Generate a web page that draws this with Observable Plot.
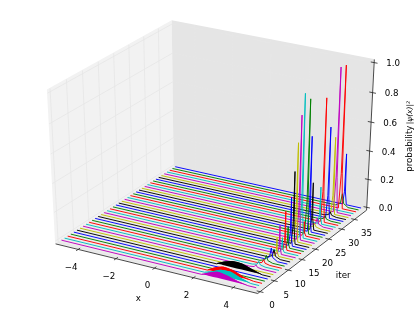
<!DOCTYPE html>
<html>
<head>
<meta charset="utf-8">
<script src="https://cdn.jsdelivr.net/npm/d3@7"></script>
<script src="https://cdn.jsdelivr.net/npm/@observablehq/plot@0.6"></script>
<style>html,body{margin:0;padding:0;background:#fff}svg{display:block}</style>
</head>
<body>
<script>
const xTicks = [-4, -2, 0, 2, 4];
const iterTicks = [0, 5, 10, 15, 20, 25, 30, 35];
const probTicks = [0, 0.2, 0.4, 0.6, 0.8, 1];
const lineColors = ["#0000ff", "#008000", "#ff0000", "#00bfbf", "#bf00bf", "#bfbf00", "#000000"];
const iterMax = 39;

const spikeIter = [39, 38, 37, 35, 34, 33, 32, 31, 30, 29, 28, 27, 26, 25, 24, 23, 22, 21, 20, 19, 18, 17, 16, 15, 14, 13, 12, 11, 10, 9, 8, 7];
const spikeX = [4.15, 4.15, 4.2, 4.2, 4.2, 4.2, 4.2, 4.2, 4.2, 4.2, 4.2, 4.2, 4.2, 4.2, 4.2, 4.2, 4.2, 4.2, 4.2, 4.2, 4.2, 4.2, 4.2, 4.2, 4.2, 4.2, 4.2, 4.2, 4.1, 4.1, 4.0, 4.0];
const spikePeak = [0.36, 0.09, 0.99, 1.0, 0.54, 0.03, 0.635, 0.03, 0.855, 0.26, 0.055, 0.03, 0.33, 0.66, 0.92, 0.1, 0.98, 0.85, 0.68, 0.5, 0.34, 0.15, 0.27, 0.1, 0.2, 0.125, 0.06, 0.085, 0.045, 0.03, 0.03, 0.02];

const humpX = [2.3, 2.7, 3.1, 3.6, 4.1, 4.6];
const hump0 = [0, 0.024, 0.042, 0.032, 0.012, 0];
const hump1 = [0, 0.018, 0.042, 0.045, 0.02, 0];
const hump2 = [0, 0.03, 0.048, 0.04, 0.012, 0];
const hump5 = [0, 0.026, 0.042, 0.042, 0.02, 0];
const humps = new Map([[0, hump0], [1, hump1], [2, hump2], [5, hump5]]);

// mplot3d camera: elev 30, azim -60, dist 10
const rad = Math.PI / 180, el = 30 * rad, az = -60 * rad, dist = 10;
const n = [Math.cos(az) * Math.cos(el), Math.sin(az) * Math.cos(el), Math.sin(el)];
const nh = Math.hypot(-n[1], n[0]);
const u = [-n[1] / nh, n[0] / nh, 0];
const v = [n[1] * u[2] - n[2] * u[1], n[2] * u[0] - n[0] * u[2], n[0] * u[1] - n[1] * u[0]];
const dot = (a, b) => a[0] * b[0] + a[1] * b[1] + a[2] * b[2];
function cam(a, b, c) {
  const d = [a - 0.5, b - 0.5, c - 0.5], w = dist - dot(n, d);
  return [dot(u, d) / w, dot(v, d) / w];
}
const nx = (x) => 0.02 + 0.96 * (x + 5) / 10;
const ny = (i) => 0.02 + 0.96 * i / iterMax;
const nz = (p) => 0.02 + 0.96 * p;
const P = (x, i, p) => cam(nx(x), ny(i), nz(p));
const link = (a, b) => ({ x1: a[0], y1: a[1], x2: b[0], y2: b[1] });

function pane(a, b, c, d, fill) {
  return Plot.area([link(cam(...a), cam(...d)), link(cam(...b), cam(...c))],
    { x1: "x1", y1: "y1", x2: "x2", y2: "y2", fill, stroke: "none" });
}

const grid = [
  ...xTicks.flatMap((t) => [
    link(cam(nx(t), 0, 0), cam(nx(t), 1, 0)),
    link(cam(nx(t), 1, 0), cam(nx(t), 1, 1))]),
  ...iterTicks.flatMap((t) => [
    link(cam(0, ny(t), 1), cam(0, ny(t), 0)),
    link(cam(0, ny(t), 0), cam(1, ny(t), 0))]),
  ...probTicks.flatMap((t) => [
    link(cam(0, 0, nz(t)), cam(0, 1, nz(t))),
    link(cam(0, 1, nz(t)), cam(1, 1, nz(t)))])
];
const axisLines = [
  link(cam(0, 0, 0), cam(1, 0, 0)),
  link(cam(1, 0, 0), cam(1, 1, 0)),
  link(cam(1, 1, 0), cam(1, 1, 1))
];
const tl = 0.016;
const tickMarks = [
  ...xTicks.map((t) => link(cam(nx(t), -tl, 0), cam(nx(t), tl, 0))),
  ...iterTicks.map((t) => link(cam(1 - tl, ny(t), 0), cam(1 + tl, ny(t), 0))),
  ...probTicks.map((t) => link(cam(1 - tl, 1, nz(t)), cam(1 + tl, 1, nz(t))))
];

const iters = d3.range(iterMax, -1, -1);
const waveMarks = iters.flatMap((i) => {
  const color = lineColors[(iterMax - i) % 7];
  const h = humps.get(i);
  const k = spikeIter.indexOf(i);
  let pts = [[-5, 0], [5, 0]];
  if (h) pts = [[-5, 0], ...humpX.map((x, j) => [x, h[j]]), [5, 0]];
  if (k >= 0) {
    const c = spikeX[k], w = spikePeak[k] < 0.1 ? 0.16 : 0.05;
    pts = [[-5, 0], [c - 2 * w, 0], [c - w / 2, spikePeak[k] * 0.25], [c, spikePeak[k]], [c + w / 2, spikePeak[k] * 0.25], [c + 2 * w, 0], [5, 0]];
  }
  const rows = pts.map(([x, p]) => { const a = P(x, i, p); return { x: a[0], y: a[1] }; });
  const marks = [];
  if (h) {
    const band = humpX.map((x, j) => link(P(x, i, 0), P(x, i, h[j])));
    marks.push(Plot.area(band, { x1: "x1", y1: "y1", x2: "x2", y2: "y2", fill: color, curve: "catmull-rom" }));
  }
  marks.push(Plot.line(rows, { x: "x", y: "y", stroke: color, strokeWidth: 0.95, curve: "linear" }));
  return marks;
});

const font = { fontFamily: "DejaVu Sans", fontSize: 8.7, fill: "#000" };
const xLab = xTicks.map((t) => { const b = cam(nx(t), 0, 0); return { x: b[0], y: b[1], t: t < 0 ? "\u2212" + (-t) : String(t) }; });
const iLab = iterTicks.map((t) => { const b = cam(1, ny(t), 0); return { x: b[0], y: b[1], t: String(t) }; });
const pLab = probTicks.map((t) => { const b = cam(1, 1, nz(t)); return { x: b[0], y: b[1], t: t.toFixed(1) }; });
const xT = cam(0.5, 0, 0), iT = cam(1, 0.5, 0), pT = cam(1, 1, 0.5);

const chart = Plot.plot({
  width: 415, height: 313,
  margin: 0,
  x: { domain: [-213 / 2333, (415 - 213) / 2333], range: [0, 415], axis: null },
  y: { domain: [152 / 1758, (152 - 313) / 1758], range: [0, 313], axis: null },
  style: { background: "#fff", filter: "blur(0.4px)" },
  marks: [
    pane([0, 0, 1], [0, 1, 1], [0, 1, 0], [0, 0, 0], "#f2f2f2"),
    pane([0, 1, 1], [1, 1, 1], [1, 1, 0], [0, 1, 0], "#e5e5e5"),
    pane([0, 1, 0], [1, 1, 0], [1, 0, 0], [0, 0, 0], "#ececec"),
    Plot.link(grid, { x1: "x1", y1: "y1", x2: "x2", y2: "y2", stroke: "#e6e6e6", strokeWidth: 0.8 }),
    Plot.link(axisLines, { x1: "x1", y1: "y1", x2: "x2", y2: "y2", stroke: "#333", strokeWidth: 0.9 }),
    Plot.link(tickMarks, { x1: "x1", y1: "y1", x2: "x2", y2: "y2", stroke: "#222", strokeWidth: 0.8 }),
    ...waveMarks,
    Plot.text(xLab, { x: "x", y: "y", text: "t", dx: -7, dy: 17.5, ...font }),
    Plot.text(iLab, { x: "x", y: "y", text: "t", dx: 12, dy: 14, ...font }),
    Plot.text(pLab, { x: "x", y: "y", text: "t", dx: 19, dy: 1, ...font }),
    Plot.text([xT], { x: (d) => d[0], y: (d) => d[1], text: () => "x", dx: -16, dy: 30.5, ...font }),
    Plot.text([iT], { x: (d) => d[0], y: (d) => d[1], text: () => "iter", dx: 29, dy: 25, ...font }),
    Plot.text([pT], { x: (d) => d[0], y: (d) => d[1], text: () => "probability", dx: 39, dy: 12, rotate: -90, ...font }),
    Plot.text([pT], { x: (d) => d[0], y: (d) => d[1], text: () => "|\u03c8(x)|\u00b2", dx: 39, dy: -24, rotate: -90, ...font, fontSize: 7.5, fontStyle: "italic" })
  ]
});
document.body.appendChild(chart);
</script>
</body>
</html>
